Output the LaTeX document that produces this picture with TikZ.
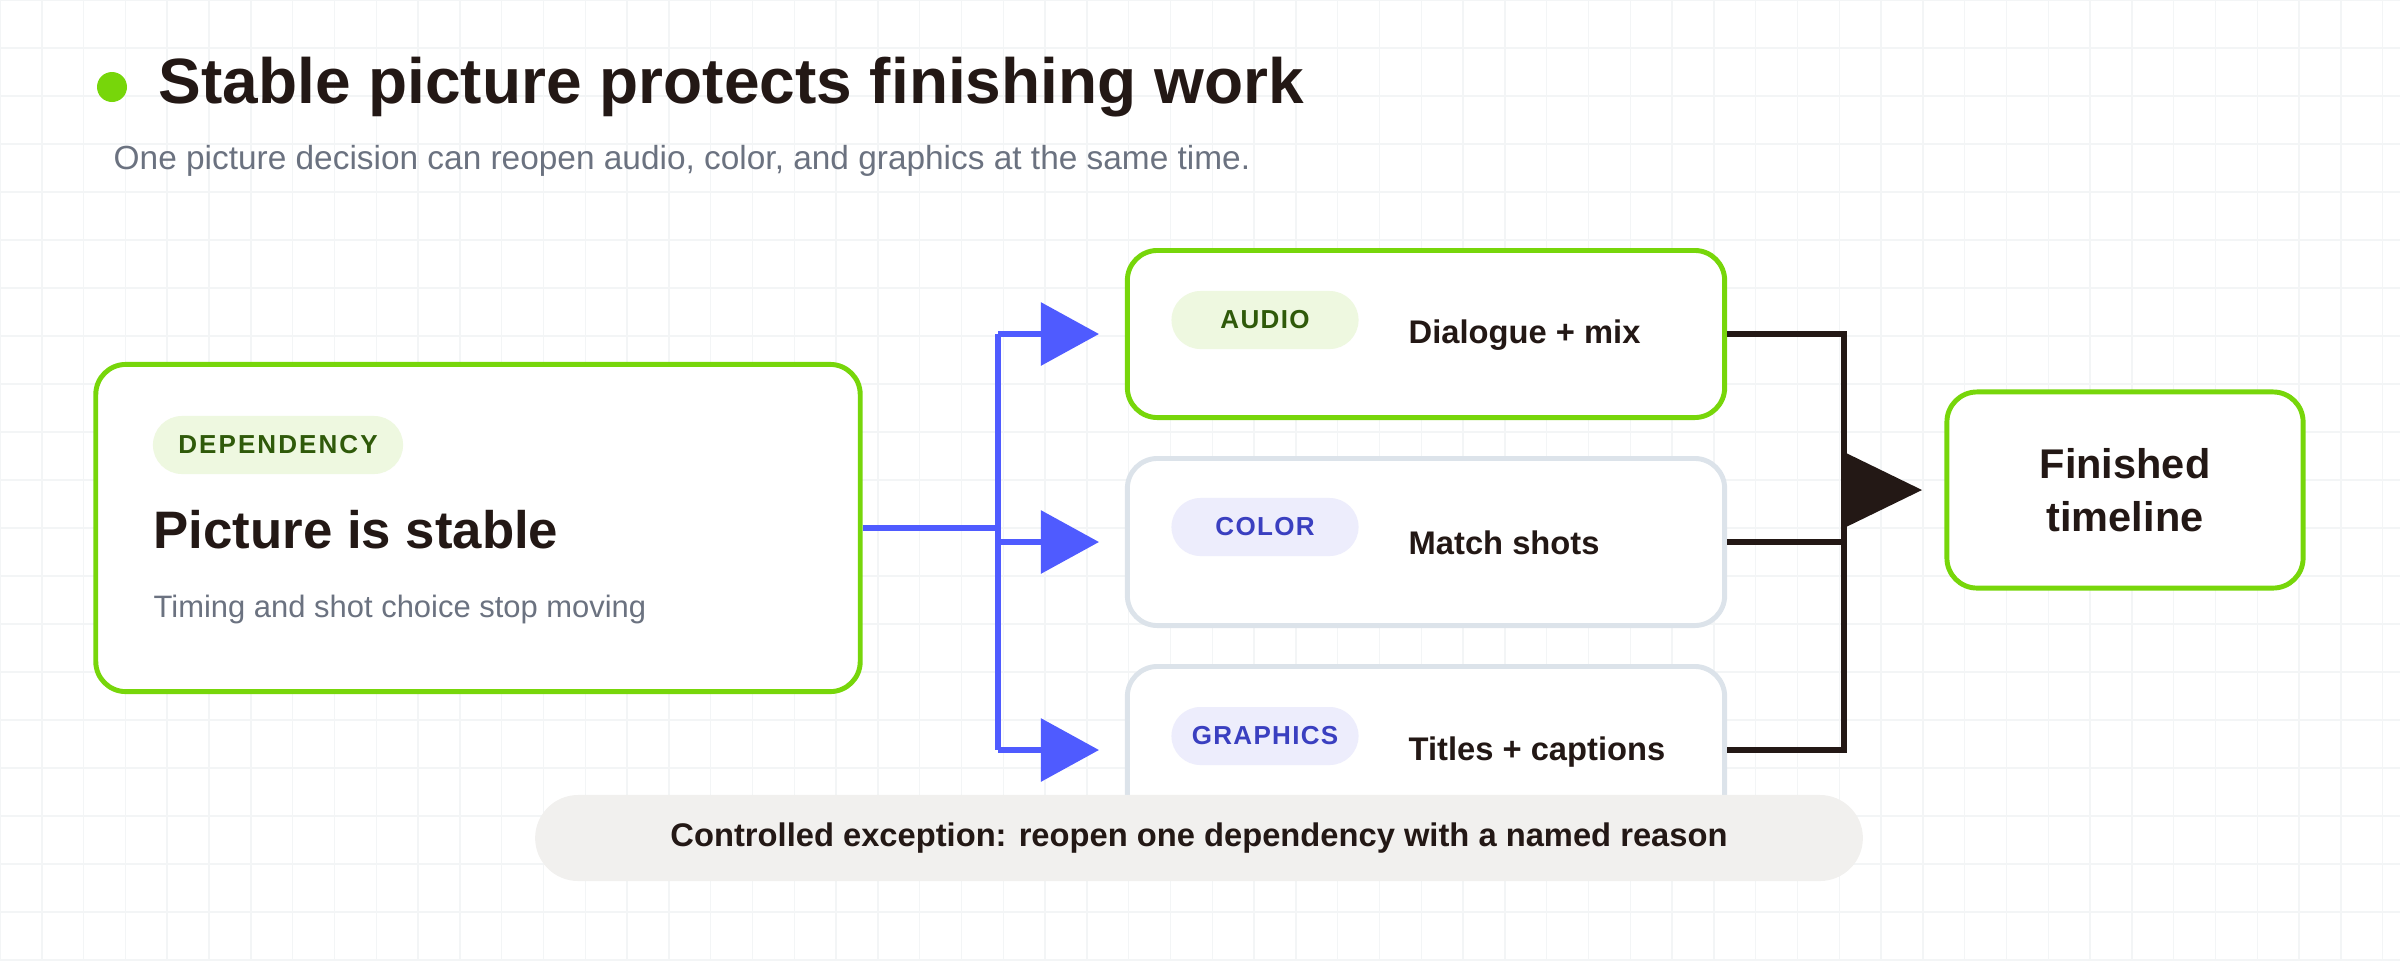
\documentclass[tikz,border=0pt]{standalone}
\usepackage{fontspec}
\setmainfont{Liberation Sans}
\usetikzlibrary{positioning,calc,arrows.meta}
\definecolor{lime}{HTML}{77D60A}
\definecolor{ink}{HTML}{231815}
\definecolor{mute}{HTML}{6B7280}
\definecolor{flow}{HTML}{4F5BFF}
\definecolor{pillg}{HTML}{EEF8E0}
\definecolor{pillgt}{HTML}{2F5A0A}
\definecolor{pillb}{HTML}{EDEDFC}
\definecolor{pillbt}{HTML}{3A3FC0}
\definecolor{edge}{HTML}{DCE3EA}
\definecolor{band}{HTML}{F1F0EE}
\definecolor{gridc}{HTML}{F3F5F6}
\tikzset{
  card/.style={draw=#1,line width=1.4pt,rounded corners=0.3cm,fill=white,inner sep=0pt},
  pill/.style={fill=#1,rounded corners=0.29cm,minimum width=1.87cm,minimum height=0.58cm,inner sep=0pt,font=\fontsize{7.4}{9}\selectfont\bfseries},
  lbl/.style={anchor=west,text=ink,font=\fontsize{9.3}{11}\selectfont\bfseries,inner sep=0pt},
  wire/.style={line width=1.7pt},
  bluearrow/.style={draw=flow,wire,-{Triangle[length=0.58cm,width=0.62cm]}},
}
\begin{document}
\begin{tikzpicture}[x=0.01cm,y=-0.01cm]
		\useasboundingbox (0,0) rectangle (2400,960);
		\foreach \i in {0,...,57} \draw[gridc,line width=0.4pt] (\i*41.8,0) -- (\i*41.8,960);
		\foreach \j in {0,...,20} \draw[gridc,line width=0.4pt] (0,\j*48) -- (2400,\j*48);
		
		% heading
		\fill[lime] (112,87) circle (15);
		\node[anchor=west,text=ink,inner sep=0pt,font=\fontsize{18.2}{22}\selectfont\bfseries] (title) at (158,87) {Stable picture protects finishing work};
		\node[anchor=west,text=mute,inner sep=0pt,font=\fontsize{9.5}{11}\selectfont] (sub) at (113,161) {One picture decision can reopen audio, color, and graphics at the same time.};
		
		% source card
		\node[card=lime,minimum width=7.64cm,minimum height=3.27cm] (src) at (478,528) {};
		\node[pill=pillg,text=pillgt,minimum width=2.5cm] (dep) at (278,445) {\addfontfeature{LetterSpace=8}DEPENDENCY};
		\node[anchor=west,text=ink,inner sep=0pt,font=\fontsize{15}{18}\selectfont\bfseries] (stable) at (153,530) {Picture is stable};
		\node[anchor=west,text=mute,inner sep=0pt,font=\fontsize{8.8}{10}\selectfont] (timing) at (153,609) {Timing and shot choice stop moving};
		
		% dependency cards
		\node[card=lime,minimum width=5.97cm,minimum height=1.67cm] (audio) at (1426,334) {};
		\node[card=edge,minimum width=5.97cm,minimum height=1.67cm] (color) at (1426,542) {};
		\node[card=edge,minimum width=5.97cm,minimum height=1.67cm] (gfx) at (1426,750) {};
		\node[pill=pillg,text=pillgt] (ptA) at (1265,320) {\addfontfeature{LetterSpace=5}AUDIO};
		\node[pill=pillb,text=pillbt] (ptC) at (1265,527) {\addfontfeature{LetterSpace=5}COLOR};
		\node[pill=pillb,text=pillbt] (ptG) at (1265,736) {\addfontfeature{LetterSpace=5}GRAPHICS};
		\node[lbl] (tA) at (1408,335) {Dialogue + mix};
		\node[lbl] (tC) at (1408,543) {Match shots};
		\node[lbl] (tG) at (1408,752) {Titles + captions};
		
		% target
		\node[card=lime,minimum width=3.56cm,minimum height=1.96cm,align=center,text=ink,font=\fontsize{11.8}{15}\selectfont\bfseries] (done) at (2125,490) {Finished\\timeline};
		
		% fan out
		\coordinate (split) at (998,528);
		\draw[flow,wire] (src.east) -- (split);
		\draw[flow,wire] (998,334) -- (998,750);
		\draw[bluearrow] (998,334) -- (1099,334);
		\draw[bluearrow] (998,542) -- (1099,542);
		\draw[bluearrow] (998,750) -- (1099,750);
		
		% merge
		\coordinate (merge) at (1844,490);
		\draw[ink,wire] (audio.east) -| (merge);
		\draw[ink,wire] (gfx.east) -| (merge);
		\draw[ink,wire] (color.east) -- (1844,542);
		\fill[ink] (1844,452) -- (1922,490) -- (1844,528) -- cycle;
		
		% exception band
		\node[fill=band,rounded corners=0.43cm,minimum width=13.27cm,minimum height=0.86cm,text=ink,font=\fontsize{9.3}{11}\selectfont\bfseries] (except) at (1199,838) {Controlled exception: reopen one dependency with a named reason};
	\end{tikzpicture}
\end{document}
